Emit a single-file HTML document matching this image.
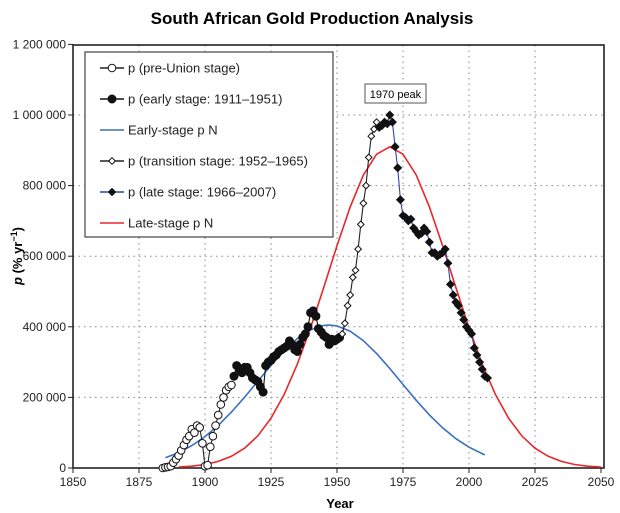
<!DOCTYPE html>
<html><head><meta charset="utf-8"><style>
body{margin:0;background:#fff;}
svg{display:block;font-family:"Liberation Sans",Arial,sans-serif;}
</style></head><body>
<svg width="620" height="513" xmlns="http://www.w3.org/2000/svg">
<defs>
<marker id="oc" markerUnits="userSpaceOnUse" markerWidth="12" markerHeight="12" refX="6" refY="6" overflow="visible"><circle cx="6" cy="6" r="3.8" fill="#fff" stroke="#111" stroke-width="1"/></marker>
<marker id="fc" markerUnits="userSpaceOnUse" markerWidth="12" markerHeight="12" refX="6" refY="6" overflow="visible"><circle cx="6" cy="6" r="4" fill="#111" stroke="#111" stroke-width="1"/></marker>
<marker id="od" markerUnits="userSpaceOnUse" markerWidth="12" markerHeight="12" refX="6" refY="6" overflow="visible"><polygon points="6,2.7 9.3,6 6,9.3 2.7,6" fill="#fff" stroke="#111" stroke-width="1"/></marker>
<marker id="fd" markerUnits="userSpaceOnUse" markerWidth="12" markerHeight="12" refX="6" refY="6" overflow="visible"><polygon points="6,2.2 9.8,6 6,9.8 2.2,6" fill="#111" stroke="#111" stroke-width="1"/></marker>
</defs>
<text x="312" y="24" text-anchor="middle" font-size="17" font-weight="bold">South African Gold Production Analysis</text>
<g stroke="#888" stroke-dasharray="1.5,4">
<line x1="139" y1="45" x2="139" y2="468"/><line x1="205" y1="45" x2="205" y2="468"/><line x1="271" y1="45" x2="271" y2="468"/><line x1="337" y1="45" x2="337" y2="468"/><line x1="403" y1="45" x2="403" y2="468"/><line x1="469" y1="45" x2="469" y2="468"/><line x1="535" y1="45" x2="535" y2="468"/>
<line x1="73" y1="397.4" x2="604" y2="397.4"/><line x1="73" y1="326.8" x2="604" y2="326.8"/><line x1="73" y1="256.2" x2="604" y2="256.2"/><line x1="73" y1="185.6" x2="604" y2="185.6"/><line x1="73" y1="115" x2="604" y2="115"/>
</g>
<rect x="73" y="45" width="531" height="423" fill="none" stroke="#222" stroke-width="1.6"/>
<g stroke="#222">
<line x1="73" y1="468" x2="73" y2="473"/><line x1="139" y1="468" x2="139" y2="473"/><line x1="205" y1="468" x2="205" y2="473"/><line x1="271" y1="468" x2="271" y2="473"/><line x1="337" y1="468" x2="337" y2="473"/><line x1="403" y1="468" x2="403" y2="473"/><line x1="469" y1="468" x2="469" y2="473"/><line x1="535" y1="468" x2="535" y2="473"/><line x1="601" y1="468" x2="601" y2="473"/>
<line x1="68" y1="468" x2="73" y2="468"/><line x1="68" y1="397.4" x2="73" y2="397.4"/><line x1="68" y1="326.8" x2="73" y2="326.8"/><line x1="68" y1="256.2" x2="73" y2="256.2"/><line x1="68" y1="185.6" x2="73" y2="185.6"/><line x1="68" y1="115" x2="73" y2="115"/><line x1="68" y1="44.4" x2="73" y2="44.4"/>
</g>
<g font-size="12" fill="#222" text-anchor="middle">
<text x="73" y="486">1850</text><text x="139" y="486">1875</text><text x="205" y="486">1900</text><text x="271" y="486">1925</text><text x="337" y="486">1950</text><text x="403" y="486">1975</text><text x="469" y="486">2000</text><text x="535" y="486">2025</text><text x="601" y="486">2050</text>
</g>
<g font-size="12" fill="#222" text-anchor="end">
<text x="66" y="472">0</text><text x="66" y="401.4">200 000</text><text x="66" y="330.8">400 000</text><text x="66" y="260.2">600 000</text><text x="66" y="189.6">800 000</text><text x="66" y="119">1 000 000</text><text x="66" y="48.4">1 200 000</text>
</g>
<text x="340" y="508" text-anchor="middle" font-size="13" font-weight="bold">Year</text>
<text transform="translate(22,256) rotate(-90)" text-anchor="middle" font-size="13" font-weight="bold"><tspan font-style="italic">p</tspan> (% yr<tspan dy="-5" font-size="9">−1</tspan><tspan dy="5">)</tspan></text>

<polyline fill="none" stroke="#3a6fc4" stroke-width="1.6" points="165.4,457.8 178.6,452.6 191.8,445.6 205,436.6 218.2,425.4 231.4,412.1 244.6,397.2 257.8,381.3 271,365.4 284.2,350.8 297.4,338.5 310.6,329.8 323.8,325.4 329.1,325 337,325.9 350.2,331.2 363.4,340.7 376.6,353.5 389.8,368.5 403,384.5 416.2,400.3 429.4,414.9 442.6,427.8 455.8,438.6 469,447.2 484.8,454.9"/>
<polyline fill="none" stroke="#e8272a" stroke-width="1.6" points="178.6,467.1 191.8,466.2 205,464.5 218.2,461.4 231.4,456.3 244.6,448.2 257.8,435.9 271,418.2 284.2,394.4 297.4,364 310.6,327.8 323.8,287.3 337,245.7 350.2,206.9 363.4,175 376.6,154.2 389.8,146.8 403,154.2 416.2,175 429.4,206.9 442.6,245.7 455.8,287.3 469,327.8 482.2,364 495.4,394.4 508.6,418.2 521.8,435.9 535,448.2 548.2,456.3 561.4,461.4 574.6,464.5 587.8,466.2 601,467.1"/>

<polyline fill="none" stroke="#222" stroke-width="1.1" marker-start="url(#oc)" marker-mid="url(#oc)" marker-end="url(#oc)" points="162.8,468 165.4,467.3 168,466.9 170.7,466.2 173.3,462.7 176,459.2 178.6,455.6 181.2,450.4 183.9,445.1 186.5,439.8 189.2,436.2 191.8,429.2 194.4,432.7 197.1,425.6 199.7,427.4 202.4,443.3 205,466.2 207.6,465.2 210.3,446.8 212.9,436.2 215.6,425.6 218.2,415.1 220.8,404.5 223.5,397.4 226.1,390.3 228.8,386.8 231.4,385"/>
<polyline fill="none" stroke="#111" stroke-width="1.1" marker-start="url(#fc)" marker-mid="url(#fc)" marker-end="url(#fc)" points="234,376.2 236.7,365.6 239.3,369.2 242,372.7 244.6,367.4 247.2,367.4 249.9,372.7 252.5,378 255.2,379.8 257.8,381.5 260.4,386.8 263.1,392.1 265.7,365.6 268.4,362.1 271,360.3 273.6,356.8 276.3,355 278.9,351.5 281.6,349.7 284.2,348 286.8,346.2 289.5,340.9 292.1,344.4 294.8,349.7 297.4,351.5 300,344.4 302.7,337.4 305.3,333.9 308,326.8 310.6,312.7 313.2,310.9 315.9,316.2 318.5,328.6 321.2,332.1 323.8,335.6 326.4,337.4 329.1,344.4 331.7,339.2 334.4,340.9 337,339.2 339.6,337.4"/>
<polyline fill="none" stroke="#222" stroke-width="1.1" marker-start="url(#od)" marker-mid="url(#od)" marker-end="url(#od)" points="342.3,333.9 344.9,323.3 347.6,305.6 350.2,295 352.8,277.4 355.5,270.3 358.1,249.1 360.8,224.4 363.4,203.3 366,185.6 368.7,157.4 371.3,136.2 374,129.1 376.6,122.1"/>
<polyline fill="none" stroke="#3344aa" stroke-width="1.1" marker-start="url(#fd)" marker-mid="url(#fd)" marker-end="url(#fd)" points="379.2,127.4 381.9,125.6 384.5,122.1 387.2,123.8 389.8,115 392.4,122.1 395.1,146.8 397.7,167.9 400.4,199.7 403,215.6 405.6,217.4 408.3,220.9 410.9,219.1 413.6,228 416.2,231.5 418.8,235 421.5,233.3 424.1,228 426.8,231.5 429.4,242.1 432,252.7 434.7,252.7 437.3,256.2 440,254.4 442.6,252.7 445.2,249.1 447.9,263.3 450.5,284.4 453.2,295 455.8,302.1 458.4,305.6 461.1,312.7 463.7,319.7 466.4,326.8 469,330.3 471.6,333.9 474.3,348 476.9,355 479.6,362.1 482.2,369.2 484.8,376.2 487.5,378"/>

<rect x="365" y="84" width="61" height="19" fill="#fff" stroke="#555"/>
<text x="395.5" y="98" text-anchor="middle" font-size="11">1970 peak</text>

<rect x="85" y="52" width="248" height="185" fill="#fff" stroke="#444" stroke-width="1.2"/>
<g font-size="13" fill="#222">
<line x1="100" y1="68" x2="124" y2="68" stroke="#222" stroke-width="1.6"/><circle cx="112" cy="68" r="3.8" fill="#fff" stroke="#111"/><text x="128" y="72.5">p (pre-Union stage)</text>
<line x1="100" y1="99" x2="124" y2="99" stroke="#111" stroke-width="1.6"/><circle cx="112" cy="99" r="4" fill="#111" stroke="#111"/><text x="128" y="103.5">p (early stage: 1911–1951)</text>
<line x1="100" y1="130" x2="124" y2="130" stroke="#3a6fc4" stroke-width="1.6"/><text x="128" y="134.5">Early-stage p N</text>
<line x1="100" y1="161" x2="124" y2="161" stroke="#222" stroke-width="1.6"/><polygon points="112,157.7 115.3,161 112,164.3 108.7,161" fill="#fff" stroke="#111"/><text x="128" y="165.5">p (transition stage: 1952–1965)</text>
<line x1="100" y1="192" x2="124" y2="192" stroke="#3344aa" stroke-width="1.6"/><polygon points="112,188.5 115.5,192 112,195.5 108.5,192" fill="#111" stroke="#111"/><text x="128" y="196.5">p (late stage: 1966–2007)</text>
<line x1="100" y1="223" x2="124" y2="223" stroke="#e8272a" stroke-width="1.6"/><text x="128" y="227.5">Late-stage p N</text>
</g>
</svg>
</body></html>
